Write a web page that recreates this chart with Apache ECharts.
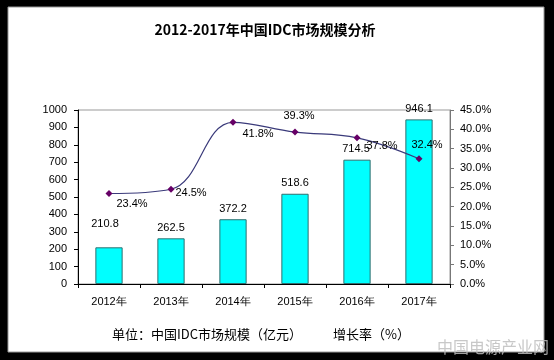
<!DOCTYPE html>
<html>
<head>
<meta charset="utf-8">
<script src="https://cdn.jsdelivr.net/npm/echarts@6/dist/echarts.min.js"></script>
<style>html,body{margin:0;padding:0;background:#000;}#c{width:554px;height:360px;}</style>
</head>
<body>
<div id="c"></div>
<script>
var categories = ['2012年','2013年','2014年','2015年','2016年','2017年'];
var marketSize = [210.8, 262.5, 372.2, 518.6, 714.5, 946.1];
var growthRate = [23.4, 24.5, 41.8, 39.3, 37.8, 32.4];
var leftTicks = {min: 0, max: 1000, interval: 100};
var rightTicks = {min: 0, max: 45, interval: 5};

var lineLabelOffsets = [[23,10],[20,4],[25,12],[4,-16],[25,8],[8,-14]];
var barLabelOffsets = [[-4,-13],[0,0],[0,0],[0,0],[-1,0],[0,0]];

var font = 'Liberation Sans';
var chart = echarts.init(document.getElementById('c'), null, {renderer: 'canvas'});
chart.setOption({
  backgroundColor: '#000',
  animation: false,
  graphic: [
    {type: 'rect', shape: {x: 8, y: 7, width: 536, height: 345}, style: {fill: '#fff', stroke: '#999', lineWidth: 1}, z: -10},
    {type: 'text', left: 112, top: 328, style: {text: '单位：中国IDC市场规模（亿元）', font: '13px "Noto Sans CJK SC"', fill: '#000'}},
    {type: 'text', left: 333, top: 328, style: {text: '增长率（%）', font: '13px "Noto Sans CJK SC"', fill: '#000'}},
    {type: 'text', left: 437, top: 339, style: {text: '中国电源产业网', font: '16px "Noto Sans CJK SC"', fill: 'rgba(190,190,190,0.85)'}, z: 100}
  ],
  title: {
    text: '2012-2017年中国IDC市场规模分析',
    left: 260, top: 18, textAlign: 'center',
    textStyle: {fontSize: 14, fontWeight: 'bold', color: '#000', fontFamily: 'Noto Sans CJK SC'}
  },
  grid: {left: 78, right: 104, top: 110, bottom: 76, show: true, borderColor: '#999', borderWidth: 1, backgroundColor: 'transparent'},
  xAxis: {
    type: 'category', data: categories,
    axisLine: {lineStyle: {color: '#000'}},
    axisTick: {show: true, length: 4, lineStyle: {color: '#000'}},
    axisLabel: {color: '#000', fontSize: 11, fontFamily: font, margin: 12}
  },
  yAxis: [
    {type: 'value', min: leftTicks.min, max: leftTicks.max, interval: leftTicks.interval,
     axisLine: {show: true, lineStyle: {color: '#000'}},
     axisTick: {show: true, length: 4, lineStyle: {color: '#000'}},
     splitLine: {show: false},
     axisLabel: {color: '#000', fontSize: 11, fontFamily: font, margin: 11, formatter: function (v) { return String(v); }}},
    {type: 'value', min: rightTicks.min, max: rightTicks.max, interval: rightTicks.interval, position: 'right',
     axisLine: {show: true, lineStyle: {color: '#777'}},
     axisTick: {show: true, length: 4, lineStyle: {color: '#777'}},
     splitLine: {show: false},
     axisLabel: {color: '#000', fontSize: 11, fontFamily: font, margin: 10, formatter: function (v) { return v.toFixed(1) + '%'; }}}
  ],
  series: [
    {
      type: 'bar', yAxisIndex: 0, barWidth: '44%',
      data: marketSize.map(function (v, i) {
        return {value: v, label: {offset: barLabelOffsets[i]}};
      }),
      itemStyle: {color: '#00FFFF', borderColor: '#2F6F6F', borderWidth: 1},
      label: {show: true, position: 'top', distance: 5, color: '#000', fontSize: 11, fontFamily: font}
    },
    {
      type: 'line', yAxisIndex: 1, smooth: 0.4,
      data: growthRate.map(function (v, i) {
        return {value: v, label: {offset: lineLabelOffsets[i]}};
      }),
      lineStyle: {color: '#3A3A7A', width: 1.2},
      symbol: 'diamond', symbolSize: 7,
      itemStyle: {color: '#660066'},
      label: {show: true, position: 'inside', color: '#000', fontSize: 11, fontFamily: font,
              formatter: function (p) { return p.value + '%'; }},
      z: 5
    }
  ]
});
</script>
</body>
</html>
